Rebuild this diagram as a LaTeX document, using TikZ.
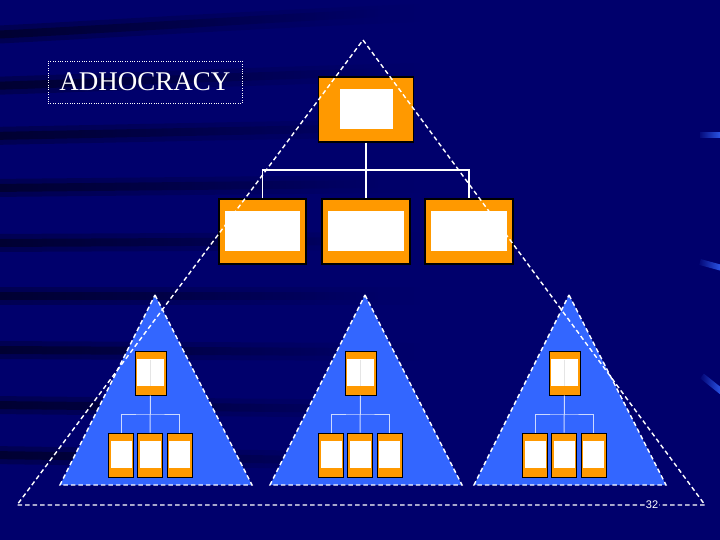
\documentclass[tikz,border=0pt]{standalone}
\usepackage{fontspec}
\setmainfont{Liberation Serif}
\newfontfamily\pagefont{Liberation Sans}
\usetikzlibrary{calc,fadings}
\definecolor{slidebg}{RGB}{0,0,108}
\definecolor{unitorange}{RGB}{255,153,0}
\definecolor{teamblue}{RGB}{51,102,255}
\tikzset{
  dashline/.style={white, line width=1.4pt, dash pattern=on 4.5pt off 3pt},
  orgline/.style={white, line width=1.6pt},
  teamline/.style={white!75!teamblue, line width=1pt},
  bigunit/.style n args={2}{draw=black, line width=1.2pt, fill=unitorange, inner sep=0pt,
    minimum width=#1, minimum height=65pt,
    path picture={\fill[white] ($(path picture bounding box.south west)+(#2,13pt)$)
      rectangle ($(path picture bounding box.north east)+(-#2,-12pt)$);}},
  smallunit/.style={draw=black, line width=1pt, fill=unitorange, inner sep=0pt,
    minimum width=25pt, minimum height=44pt,
    path picture={\fill[white] ($(path picture bounding box.south west)+(2pt,9pt)$)
      rectangle ($(path picture bounding box.north east)+(-2pt,-8pt)$);}},
}
\begin{document}
\begin{tikzpicture}[x=1pt, y=-1pt]
  \useasboundingbox (0,0) rectangle (720,540);
  \fill[slidebg] (0,0) rectangle (720,540);
  % dark streaks on the left
  \foreach \yy/\bend in {35/22,86/14,136/8,188/4,243/2,296/0,350/-2,405/-4,455/-6}{
    \draw[black, line width=18pt, opacity=0.25, path fading=east]
      (-10,\yy) .. controls (120,\yy-\bend*0.3) and (250,\yy-\bend*0.7) .. (420,\yy-\bend);
    \draw[black, line width=8pt, opacity=0.4, path fading=east]
      (-10,\yy) .. controls (120,\yy-\bend*0.3) and (250,\yy-\bend*0.7) .. (380,\yy-\bend);
  }
  % blue flecks on the right edge
  \draw[teamblue, line width=6pt, path fading=west] (700,135) -- (722,135);
  \draw[teamblue, line width=6pt, path fading=west] (700,262) -- (722,268);
  \draw[teamblue, line width=6pt, path fading=west] (702,376) -- (722,392);

  \node[draw=white, dotted, text=white, font=\fontsize{27}{30}\selectfont,
    minimum width=194pt, minimum height=42pt, inner sep=0pt] (title) at (145,82) {ADHOCRACY};

  % top of the structure
  \node[bigunit={95pt}{21pt}] (head) at (366,109.5) {};
  \node[bigunit={87pt}{6pt}] (unitl) at (262.5,231.5) {};
  \node[bigunit={88pt}{6pt}] (unitm) at (366,231.5) {};
  \node[bigunit={88pt}{6pt}] (unitr) at (469,231.5) {};
  \coordinate (bar) at (366,170);
  \draw[orgline] (head) -- (unitm);
  \draw[orgline] (unitl.north) |- (bar) -| (unitr.north);

  % the three teams
  \foreach \dx/\t in {0/a,210/b,414/c}{
    \fill[teamblue] (155+\dx,295) -- (252+\dx,485) -- (60+\dx,485) -- cycle;
    \draw[dashline] (155+\dx,295) -- (252+\dx,485) -- (60+\dx,485) -- cycle;
    \node[smallunit, minimum width=31pt] (\t0) at (150.5+\dx,373) {};
    \draw[white!80!gray, line width=0.4pt] (\t0.north) ++(0,9) -- ++(0,26);
    \node[smallunit] (\t1) at (121+\dx,455) {};
    \node[smallunit] (\t2) at (150+\dx,455) {};
    \node[smallunit] (\t3) at (179.5+\dx,455) {};
    \coordinate (\t bar) at (150+\dx,414);
    \draw[teamline] (\t1.north) |- (\t bar) -| (\t3.north);
    \draw[teamline] (\t0) -- (\t2);
  }

  % outer triangle
  \draw[dashline] (363,40) -- (705,505) -- (17,505) -- cycle;
  \node[fill=slidebg, text=white, font=\pagefont\fontsize{11}{12}\selectfont,
    inner sep=1pt] (page) at (652,505) {32};
\end{tikzpicture}
\end{document}
